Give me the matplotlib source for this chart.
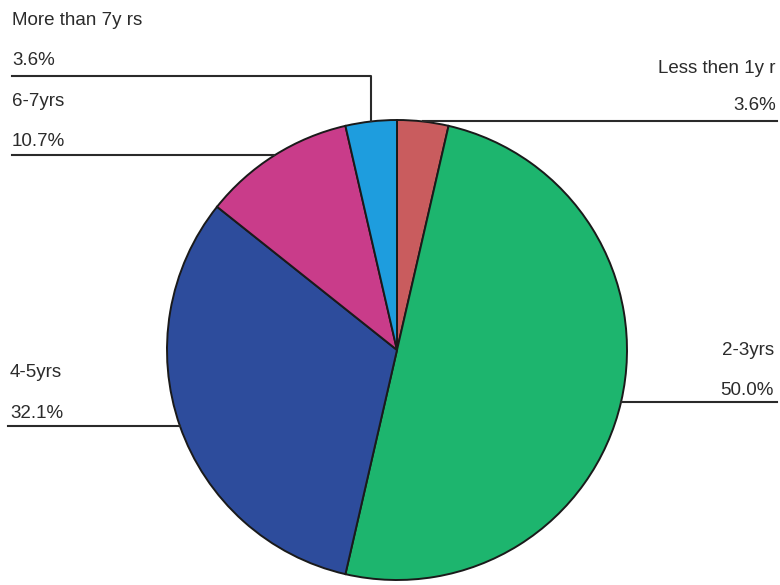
import numpy as np
import matplotlib
matplotlib.use("Agg")
import matplotlib.pyplot as plt

categories = ["Less then 1yr", "2-3yrs", "4-5yrs", "6-7yrs", "More than 7yrs"]
values = [3.6, 50.0, 32.1, 10.7, 3.6]
pct_labels = ["3.6%", "50.0%", "32.1%", "10.7%", "3.6%"]
display_names = ["Less then 1y r", "2-3yrs", "4-5yrs", "6-7yrs", "More than 7y rs"]
colors = ["#C95C5E", "#1DB56E", "#2D4C9C", "#C93C8A", "#1E9DDE"]

W, H = 780, 585
fig = plt.figure(figsize=(7.8, 5.85), dpi=100)
ax = fig.add_axes([0, 0, 1, 1])

cx, cy, r = 397, H - 350, 230
wedges, _ = ax.pie(values, colors=colors, startangle=90, counterclock=False,
                   center=(cx, cy), radius=r,
                   wedgeprops=dict(edgecolor="#1a1a1a", linewidth=1.4))
ax.set_xlim(0, W)
ax.set_ylim(0, H)
ax.set_aspect("equal")
ax.axis("off")

plt.rcParams["font.family"] = ["Liberation Sans", "DejaVu Sans"]
tc = "#2b2b2b"
fs = 13.5

def anchor(w):
    ang = np.deg2rad((w.theta1 + w.theta2) / 2)
    return cx + r * np.cos(ang), cy + r * np.sin(ang)

def Y(p):
    return H - p

lc = "#2a2a2a"
lw = 1.5

# Less then 1yr (right, top)
ax0 = anchor(wedges[0])
ax.text(776, Y(73), display_names[0], ha="right", va="baseline", fontsize=fs, color=tc)
ax.text(776, Y(110), pct_labels[0], ha="right", va="baseline", fontsize=fs, color=tc)
ax.plot([ax0[0], 777], [Y(121), Y(121)], color=lc, lw=lw)

# 2-3yrs (right)
a1 = anchor(wedges[1])
ax.text(774, Y(355), display_names[1], ha="right", va="baseline", fontsize=fs, color=tc)
ax.text(774, Y(395), pct_labels[1], ha="right", va="baseline", fontsize=fs, color=tc)
ax.plot([a1[0], 777], [a1[1], a1[1]], color=lc, lw=lw)

# 4-5yrs (left)
a2 = anchor(wedges[2])
ax.text(10, Y(377), display_names[2], ha="left", va="baseline", fontsize=fs, color=tc)
ax.text(10, Y(418), pct_labels[2], ha="left", va="baseline", fontsize=fs, color=tc)
ax.plot([8, a2[0]], [a2[1], a2[1]], color=lc, lw=lw)

# 6-7yrs (left)
a3 = anchor(wedges[3])
ax.text(12, Y(106), display_names[3], ha="left", va="baseline", fontsize=fs, color=tc)
ax.text(12, Y(146), pct_labels[3], ha="left", va="baseline", fontsize=fs, color=tc)
ax.plot([12, a3[0]], [a3[1], a3[1]], color=lc, lw=lw)

# More than 7yrs (left, top, elbow)
a4 = anchor(wedges[4])
ax.text(12, Y(25), display_names[4], ha="left", va="baseline", fontsize=fs, color=tc)
ax.text(12, Y(65), pct_labels[4], ha="left", va="baseline", fontsize=fs, color=tc)
ax.plot([12, a4[0], a4[0]], [Y(76), Y(76), a4[1]], color=lc, lw=lw)

fig.savefig("out.png", dpi=100)
